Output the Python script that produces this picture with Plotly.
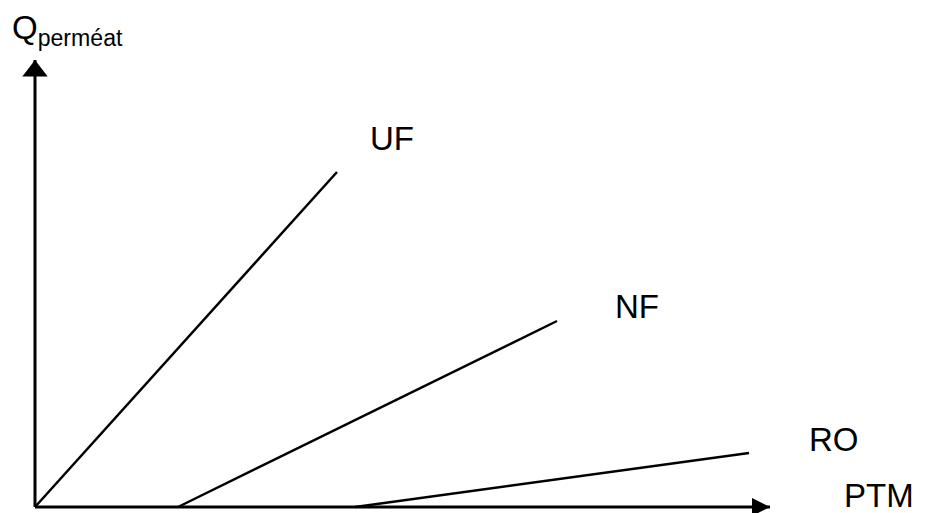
import plotly.graph_objects as go

# ---- data (arbitrary units: PTM on x, permeate flow on y) ----
series_names = ["UF", "NF", "RO"]
ptm_start = [0.0, 14.3, 32.0]
ptm_end = [30.2, 52.2, 71.4]
q_start = [0.0, 0.0, 0.0]
q_end = [33.5, 18.6, 5.4]

# curve label positions (data units)
label_x = [35.65, 60.2, 79.9]
label_y = [36.85, 20.05, 6.75]

# axis extents
x_axis_end = 73.5
y_axis_end = 44.7
x_axis_title = "PTM"
y_axis_title = "Q<sub>perméat</sub>"

FONT = "Liberation Sans, Arial, sans-serif"

fig = go.Figure()

# axes drawn as lines with arrow heads
fig.add_trace(go.Scatter(x=[0, x_axis_end], y=[0, 0], mode="lines",
                         line=dict(color="black", width=3), hoverinfo="skip"))
fig.add_trace(go.Scatter(x=[0, 0], y=[0, y_axis_end], mode="lines",
                         line=dict(color="black", width=3), hoverinfo="skip"))
fig.add_trace(go.Scatter(x=[x_axis_end], y=[0], mode="markers", cliponaxis=False,
                         marker=dict(symbol="arrow-right", size=18, color="black",
                                     line=dict(width=0)), hoverinfo="skip"))
fig.add_trace(go.Scatter(x=[0], y=[y_axis_end - 1.1], mode="markers", cliponaxis=False,
                         marker=dict(symbol="triangle-up", size=22, color="black",
                                     line=dict(width=0)), hoverinfo="skip"))

for name, x0, x1, y0, y1 in zip(series_names, ptm_start, ptm_end, q_start, q_end):
    fig.add_trace(go.Scatter(x=[x0, x1], y=[y0, y1], mode="lines", name=name,
                             line=dict(color="black", width=2.5)))

annotations = []
for name, lx, ly in zip(series_names, label_x, label_y):
    annotations.append(dict(x=lx, y=ly, xref="x", yref="y", text=name, showarrow=False,
                            xanchor="center", yanchor="middle",
                            font=dict(family=FONT, size=33, color="black")))
annotations.append(dict(x=84.35, y=1.2, xref="x", yref="y", text=x_axis_title,
                        showarrow=False, xanchor="center", yanchor="middle",
                        font=dict(family=FONT, size=33, color="black")))
annotations.append(dict(x=-2.4, y=1.0, xref="x", yref="paper", text=y_axis_title,
                        showarrow=False, xanchor="left", yanchor="top", borderpad=0,
                        font=dict(family=FONT, size=33, color="black")))

# page body has an 8px margin: the figure is sized/offset to compensate
fig.update_layout(
    width=919, height=505,
    margin=dict(l=0, r=0, t=0, b=0),
    paper_bgcolor="white", plot_bgcolor="white",
    showlegend=False,
    xaxis=dict(range=[-2.7, 89.2], visible=False, fixedrange=True),
    yaxis=dict(range=[-0.6, 49.9], visible=False, fixedrange=True),
    annotations=annotations,
)

fig.write_html("out.html", config={"displayModeBar": False})
